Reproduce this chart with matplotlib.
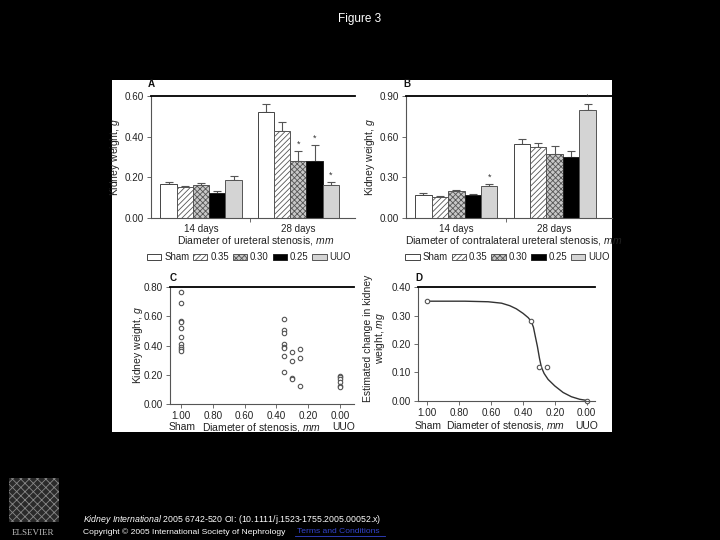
import matplotlib
matplotlib.use("Agg")
import matplotlib.pyplot as plt
from matplotlib.patches import Rectangle, Patch
from matplotlib.lines import Line2D
from matplotlib.ticker import FormatStrFormatter, FixedLocator
import numpy as np

plt.rcParams['font.family'] = ['Liberation Sans', 'DejaVu Sans']
plt.rcParams['mathtext.fontset'] = 'custom'
plt.rcParams['mathtext.it'] = 'Liberation Sans:italic'
plt.rcParams['mathtext.rm'] = 'Liberation Sans'
plt.rcParams['hatch.linewidth'] = 0.6

# ---------------- data ----------------
groups = ['14 days', '28 days']
series = ['Sham', '0.35', '0.30', '0.25', 'UUO']

a_sham = [0.168, 0.520]
a_035 = [0.152, 0.429]
a_030 = [0.163, 0.279]
a_025 = [0.122, 0.279]
a_uuo = [0.186, 0.161]
a_err_sham = [0.008, 0.039]
a_err_035 = [0.006, 0.042]
a_err_030 = [0.008, 0.050]
a_err_025 = [0.013, 0.081]
a_err_uuo = [0.023, 0.015]
a_star = [(1, '0.30'), (1, '0.25'), (1, 'UUO')]

b_sham = [0.171, 0.543]
b_035 = [0.157, 0.523]
b_030 = [0.203, 0.472]
b_025 = [0.171, 0.452]
b_uuo = [0.235, 0.792]
b_err_sham = [0.015, 0.039]
b_err_035 = [0.009, 0.030]
b_err_030 = [0.007, 0.061]
b_err_025 = [0.010, 0.042]
b_err_uuo = [0.019, 0.049]
b_star = [(0, 'UUO'), (1, 'UUO')]

c_sham_x = 1.00
c_sham_y = [0.77, 0.69, 0.57, 0.56, 0.52, 0.46, 0.41, 0.39, 0.38, 0.36]
c_035_x = 0.35
c_035_y = [0.58, 0.51, 0.485, 0.41, 0.393, 0.386, 0.327, 0.217]
c_030_x = 0.30
c_030_y = [0.359, 0.297, 0.181, 0.174]
c_025_x = 0.25
c_025_y = [0.377, 0.315, 0.126]
c_uuo_x = 0.00
c_uuo_y = [0.194, 0.183, 0.171, 0.153, 0.126, 0.117]

d_pts_x = [1.00, 0.35, 0.30, 0.25, 0.00]
d_pts_y = [0.351, 0.281, 0.120, 0.120, 0.000]
d_curve_x = [1.000, 0.764, 0.618, 0.534, 0.482, 0.441, 0.399, 0.367, 0.347, 0.334,
             0.322, 0.309, 0.296, 0.284, 0.267, 0.242, 0.200, 0.148, 0.096, 0.044, 0.000]
d_curve_y = [0.351, 0.351, 0.349, 0.344, 0.335, 0.324, 0.308, 0.293, 0.279, 0.259,
             0.226, 0.191, 0.149, 0.118, 0.096, 0.075, 0.052, 0.029, 0.014, 0.005, 0.001]

# ---------------- styles ----------------
W, H = 720, 540
def fx(x):
    return x / W
def fy(y):
    return 1 - y / H

styles = {
    'Sham': dict(facecolor='white', edgecolor='#444444', hatch=None),
    '0.35': dict(facecolor='white', edgecolor='#555555', hatch='//////'),
    '0.30': dict(facecolor='#c8c8c8', edgecolor='#555555', hatch='xxxxxx'),
    '0.25': dict(facecolor='black', edgecolor='#222222', hatch=None),
    'UUO': dict(facecolor='#d4d4d4', edgecolor='#555555', hatch=None),
}

FS = 7.1
LFS = 7.5
fig = plt.figure(figsize=(7.2, 5.4), dpi=100, facecolor='black')
fig.patches.append(Rectangle((fx(112), fy(432)), 500 / W, 352 / H,
                             transform=fig.transFigure, facecolor='white',
                             edgecolor='none', zorder=-5))


def style_axes(ax):
    ax.set_facecolor('none')
    ax.spines['right'].set_visible(False)
    ax.spines['top'].set_color('black')
    ax.spines['top'].set_linewidth(1.3)
    for s in ('left', 'bottom'):
        ax.spines[s].set_color('#555555')
        ax.spines[s].set_linewidth(0.8)
    ax.tick_params(labelsize=FS, length=3, width=0.6, color='#555555',
                   labelcolor='#222222', direction='out', pad=2)


def bar_panel(rect, means, errs, stars, ymax, yticks):
    ax = fig.add_axes(rect)
    style_axes(ax)
    w = 0.167
    xg = np.arange(len(groups))
    for i, name in enumerate(series):
        xs = xg + (i - 2) * w
        st = styles[name]
        ax.bar(xs, means[name], width=w, facecolor=st['facecolor'],
               edgecolor=st['edgecolor'], hatch=st['hatch'], linewidth=0.7,
               zorder=2)
        e = np.array(errs[name])
        ax.errorbar(xs, means[name], yerr=[np.zeros_like(e), e], fmt='none',
                    ecolor='#555555', elinewidth=0.8, capsize=3, capthick=0.8,
                    zorder=1)
    for g, name in stars:
        i = series.index(name)
        top = means[name][g] + errs[name][g]
        ax.text(g + (i - 2) * w, top + ymax * 0.02, '*', ha='center',
                va='bottom', fontsize=6.5, color='#333333', clip_on=False)
    ax.set_xlim(-0.514, 1.582)
    ax.set_ylim(0, ymax)
    ax.set_yticks(yticks)
    ax.yaxis.set_major_formatter(FormatStrFormatter('%.2f'))
    ax.set_xticks(xg)
    ax.set_xticklabels(groups)
    ax.tick_params(axis='x', which='major', length=0, pad=4)
    ax.xaxis.set_minor_locator(FixedLocator([0.5]))
    ax.tick_params(axis='x', which='minor', length=3, width=0.6, color='#555555')
    return ax


# Panel A
a_means = {'Sham': a_sham, '0.35': a_035, '0.30': a_030, '0.25': a_025, 'UUO': a_uuo}
a_errs = {'Sham': a_err_sham, '0.35': a_err_035, '0.30': a_err_030,
          '0.25': a_err_025, 'UUO': a_err_uuo}
axA = bar_panel([fx(151), fy(218.3), (355 - 151) / W, (218.3 - 95.7) / H],
                a_means, a_errs, a_star, 0.60, [0, 0.2, 0.4, 0.6])

# Panel B
b_means = {'Sham': b_sham, '0.35': b_035, '0.30': b_030, '0.25': b_025, 'UUO': b_uuo}
b_errs = {'Sham': b_err_sham, '0.35': b_err_035, '0.30': b_err_030,
          '0.25': b_err_025, 'UUO': b_err_uuo}
axB = bar_panel([fx(405.7), fy(218.3), (612 - 405.7) / W, (218.3 - 95.7) / H],
                b_means, b_errs, b_star, 0.90, [0, 0.3, 0.6, 0.9])

# legends for A and B
handles = [Patch(facecolor=styles[n]['facecolor'], edgecolor=styles[n]['edgecolor'],
                 hatch=styles[n]['hatch'], linewidth=0.7) for n in series]
for cx in (249, 507.5):
    leg = fig.legend(handles, series, loc='center', bbox_to_anchor=(fx(cx), fy(257.5)),
                     ncol=5, frameon=False, fontsize=6.9, handlelength=1.5,
                     handleheight=0.5, handletextpad=0.3, columnspacing=0.4,
                     borderaxespad=0, borderpad=0)
    for t in leg.get_texts():
        t.set_color('#222222')

fig.text(fx(256), fy(240.7), 'Diameter of ureteral stenosis, $\\mathit{mm}$',
         ha='center', va='center', fontsize=LFS, color='#222222')
fig.text(fx(405), fy(240.7), 'Diameter of contralateral ureteral stenosis, $\\mathit{mm}$',
         ha='left', va='center', fontsize=LFS, color='#222222')

fig.text(fx(115), fy(157), 'Kidney weight, $\\mathit{g}$', rotation=90,
         ha='center', va='center', fontsize=LFS, color='#222222')
fig.text(fx(370), fy(157), 'Kidney weight, $\\mathit{g}$', rotation=90,
         ha='center', va='center', fontsize=LFS, color='#222222')

# Panel C
axC = fig.add_axes([fx(170), fy(404), (354 - 170) / W, (404 - 287.3) / H])
style_axes(axC)
mk = dict(marker='o', linestyle='none', markersize=3.2, markerfacecolor='white',
          markeredgecolor='#555555', markeredgewidth=0.8, clip_on=False)
for xv, ys in ((c_sham_x, c_sham_y), (c_035_x, c_035_y), (c_030_x, c_030_y),
               (c_025_x, c_025_y), (c_uuo_x, c_uuo_y)):
    axC.plot([xv] * len(ys), ys, **mk)
axC.set_xlim(1.069, -0.088)
axC.set_ylim(0, 0.8)
axC.set_xticks([1.0, 0.8, 0.6, 0.4, 0.2, 0.0])
axC.set_yticks([0, 0.2, 0.4, 0.6, 0.8])
axC.xaxis.set_major_formatter(FormatStrFormatter('%.2f'))
axC.yaxis.set_major_formatter(FormatStrFormatter('%.2f'))
fig.text(fx(138), fy(345), 'Kidney weight, $\\mathit{g}$', rotation=90,
         ha='center', va='center', fontsize=LFS, color='#222222')
for x, t in ((181.7, 'Sham'), (261.7, 'Diameter of stenosis, $\\mathit{mm}$'), (344, 'UUO')):
    fig.text(fx(x), fy(427.3), t, ha='center', va='center', fontsize=LFS,
             color='#222222')

# Panel D
axD = fig.add_axes([fx(418.3), fy(400.7), (595 - 418.3) / W, (400.7 - 287.3) / H])
style_axes(axD)
axD.plot(d_curve_x, d_curve_y, color='#333333', linewidth=1.0)
axD.plot(d_pts_x, d_pts_y, **mk)
axD.set_xlim(1.056, -0.052)
axD.set_ylim(0, 0.4)
axD.set_xticks([1.0, 0.8, 0.6, 0.4, 0.2, 0.0])
axD.set_yticks([0, 0.1, 0.2, 0.3, 0.4])
axD.xaxis.set_major_formatter(FormatStrFormatter('%.2f'))
axD.yaxis.set_major_formatter(FormatStrFormatter('%.2f'))
fig.text(fx(375), fy(338), 'Estimated change in kidney\nweight, $\\mathit{mg}$',
         rotation=90, ha='center', va='center', fontsize=LFS,
         color='#222222', multialignment='center', linespacing=1.05)
for x, t in ((428, 'Sham'), (506, 'Diameter of stenosis, $\\mathit{mm}$'), (586.7, 'UUO')):
    fig.text(fx(x), fy(425.7), t, ha='center', va='center', fontsize=LFS,
             color='#222222')

# panel letters
for x, y, t in ((151.7, 84.3, 'A'), (406.7, 84.3, 'B'), (173.3, 278.3, 'C'),
                (418.5, 277.7, 'D')):
    fig.text(fx(x), fy(y), t, ha='center', va='center', fontsize=FS,
             fontweight='bold', color='#111111')

# title and footer
fig.text(0.5, fy(19), 'Figure 3', ha='center', va='center', fontsize=8.5,
         color='white')
fig.text(fx(83), fy(519.3),
         '$\\mathit{Kidney}$ $\\mathit{International}$ 2005 6742-520 OI: (10.1111/j.1523-1755.2005.00052.x)',
         ha='left', va='center', fontsize=6.3, color='white')
fig.text(fx(83), fy(531.7), 'Copyright \u00a9 2005 International Society of Nephrology',
         ha='left', va='center', fontsize=6.1, color='white')
fig.text(fx(297), fy(531.7), 'Terms and Conditions', ha='left', va='center',
         fontsize=6.1, color='#3344cc')
fig.add_artist(Line2D([fx(295), fx(385)], [fy(535.8), fy(535.8)], color='#3344cc',
                      linewidth=0.6, transform=fig.transFigure))

# Elsevier logo approximation
fig.patches.append(Rectangle((fx(9), fy(522)), 50 / W, 44 / H, transform=fig.transFigure,
                             facecolor='#2a2a2a', edgecolor='#888888', hatch='xxxx',
                             linewidth=0, zorder=-4))
fig.text(fx(33), fy(532.7), 'ELSEVIER', ha='center', va='center', fontsize=6.5,
         family='Liberation Serif', color='#bbbbbb')

fig.savefig('out.png', dpi=100, facecolor='black')
